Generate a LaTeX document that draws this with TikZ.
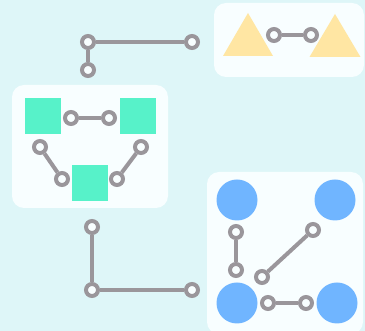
\documentclass[tikz,border=0pt]{standalone}
\definecolor{bgc}{HTML}{DEF6F8}
\definecolor{panelc}{HTML}{F8FEFF}
\definecolor{linkc}{HTML}{9A969B}
\definecolor{teal}{HTML}{57F2C9}
\definecolor{bluec}{HTML}{70B5FF}
\definecolor{yell}{HTML}{FFE6A3}
\tikzset{
  panel/.style={fill=panelc, rounded corners=12pt, draw=none},
  pin/.style={circle, draw=linkc, line width=4pt, fill=panelc, inner sep=0pt, minimum size=12pt},
  wire/.style={draw=linkc, line width=4pt},
  sq/.style={rectangle, fill=teal, inner sep=0pt, minimum size=36pt},
  dot/.style={circle, fill=bluec, inner sep=0pt, minimum size=41pt},
  tri/.style={fill=yell}
}
\begin{document}
\begin{tikzpicture}[x=1pt,y=-1pt]
\fill[bgc] (0,0) rectangle (365,331);
\useasboundingbox (0,0) rectangle (365,331);
% panels
\fill[panel] (214,3) rectangle (364,77);
\fill[panel] (12,85) rectangle (168,208);
\fill[panel] (207,172) rectangle (363,334);
% top-right triangles
\coordinate (t1) at (248,13);
\coordinate (t2) at (335,14);
\fill[tri] (t1) -- ++(25,43) -- ++(-50,0) -- cycle;
\fill[tri] (t2) -- ++(25.5,43) -- ++(-51,0) -- cycle;
\node[pin] (a1) at (274,35) {};
\node[pin] (a2) at (311,35) {};
\draw[wire] (a1) -- (a2);
% top-left connector
\node[pin] (b1) at (88,42) {};
\node[pin] (b2) at (192,42) {};
\node[pin] (b3) at (88,70) {};
\draw[wire] (b1) -- (b2);
\draw[wire] (b1) -- (b3);
% left panel squares
\node[sq] (s1) at (43,116.5) {};
\node[sq] (s2) at (138,116.5) {};
\node[sq] (s3) at (90,183) {};
\node[pin] (c1) at (71,118) {};
\node[pin] (c2) at (109,118) {};
\draw[wire] (c1) -- (c2);
\node[pin] (c3) at (40,147) {};
\node[pin] (c4) at (62,179) {};
\draw[wire] (c3) -- (c4);
\node[pin] (c5) at (141,147) {};
\node[pin] (c6) at (117,179) {};
\draw[wire] (c5) -- (c6);
% bottom-right circles
\node[dot] (d1) at (237,200) {};
\node[dot] (d2) at (335,200) {};
\node[dot] (d3) at (237,303) {};
\node[dot] (d4) at (337,303) {};
\node[pin] (e1) at (236,232) {};
\node[pin] (e2) at (236,270) {};
\draw[wire] (e1) -- (e2);
\node[pin] (e3) at (313,230) {};
\node[pin] (e4) at (262,277) {};
\draw[wire] (e3) -- (e4);
\node[pin] (e5) at (268,303) {};
\node[pin] (e6) at (306,303) {};
\draw[wire] (e5) -- (e6);
% bottom-left connector
\node[pin] (f1) at (92,227) {};
\node[pin] (f2) at (92,290) {};
\node[pin] (f3) at (192,290) {};
\draw[wire] (f1) -- (f2);
\draw[wire] (f2) -- (f3);
\end{tikzpicture}
\end{document}
